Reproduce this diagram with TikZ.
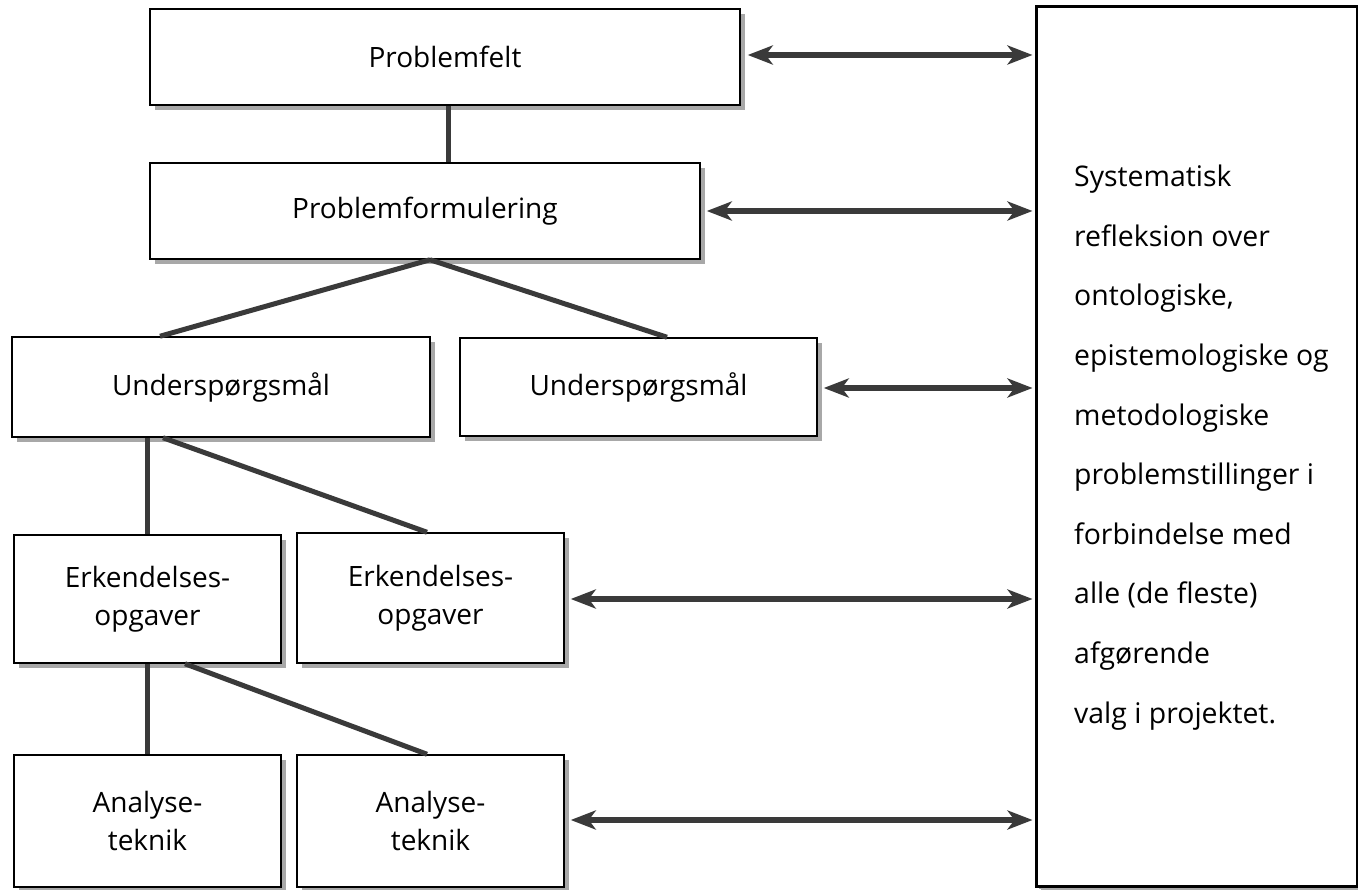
\documentclass[tikz,border=0pt]{standalone}
\usepackage{fontspec}
\setmainfont{Open Sans}
\usetikzlibrary{arrows.meta,shadows,calc}
\definecolor{linegray}{HTML}{3A3A3A}
\definecolor{shadegray}{HTML}{A8A8A8}
\begin{document}
\begin{tikzpicture}[x=1pt,y=-1pt,
  box/.style={draw=black, line width=1.5pt, fill=white, rectangle, inner sep=0pt,
    align=center, font=\fontsize{28}{38.5}\selectfont,
    drop shadow={shadow xshift=5pt, shadow yshift=-5pt, fill=shadegray, opacity=1}},
  conn/.style={draw=linegray, line width=5pt},
  tip/.tip={Stealth[length=25pt,width=19pt,inset=7pt]},
  arr/.style={draw=linegray, line width=5.5pt, tip-tip}]
\useasboundingbox[fill=white] (0,0) rectangle (1358,890);

\node[box, minimum width=590pt, minimum height=96pt] (pf) at (445,57) {Problemfelt};
\node[box, minimum width=550pt, minimum height=96pt] (pform) at (425,211) {Problemformulering};
\node[box, minimum width=418pt, minimum height=100pt] (u1) at (221,387) {Underspørgsmål};
\node[box, minimum width=357pt, minimum height=98pt] (u2) at (638.5,387) {Underspørgsmål};
\node[box, minimum width=267pt, minimum height=128pt] (e1) at (147.5,599) {Erkendelses-\\opgaver};
\node[box, minimum width=267pt, minimum height=130pt] (e2) at (430.5,598) {Erkendelses-\\opgaver};
\node[box, minimum width=267pt, minimum height=132pt] (a1) at (147.5,821) {Analyse-\\teknik};
\node[box, minimum width=267pt, minimum height=132pt] (a2) at (430.5,821) {Analyse-\\teknik};

\node[box, line width=3pt, minimum width=321pt, minimum height=879pt,
  drop shadow={shadow xshift=3pt, shadow yshift=-3pt, fill=shadegray, opacity=1}] (R) at (1196.5,446.5) {};
\node[anchor=base west, align=left, inner sep=0pt, font=\fontsize{28.4}{59.6}\selectfont] (T) at (1074,723)
  {Systematisk\\refleksion over\\ontologiske,\\epistemologiske og\\metodologiske\\problemstillinger i\\forbindelse med\\alle (de fleste)\\afgørende\\valg i projektet.};

% tree connectors
\draw[conn] ($(pf.south)+(3,0)$) -- ($(pform.north)+(23,0)$);
\draw[conn] ($(pform.south)+(5,0)$) -- ($(u1.north)+(-61,0)$);
\draw[conn] ($(pform.south)+(5,0)$) -- ($(u2.north)+(28.5,0)$);
\draw[conn] (e1.north |- u1.south) -- (e1.north);
\draw[conn] ($(u1.south)+(-58,0)$) -- ($(e2.north)+(-3.5,0)$);
\draw[conn] (e1.south) -- (a1.north);
\draw[conn] ($(e1.south)+(37.5,0)$) -- ($(a2.north)+(-3.5,0)$);

% double arrows to the reflection box
\draw[arr] ($(pf.east)+(7,-2)$) -- ($(pf.east -| R.west)+(-2,-2)$);
\draw[arr] ($(pform.east)+(6,0)$) -- ($(pform.east -| R.west)+(-2,0)$);
\draw[arr] ($(u2.east)+(6,1)$) -- ($(u2.east -| R.west)+(-2,1)$);
\draw[arr] ($(e2.east)+(6,1)$) -- ($(e2.east -| R.west)+(-2,1)$);
\draw[arr] ($(a2.east)+(6,-1)$) -- ($(a2.east -| R.west)+(-2,-1)$);
\end{tikzpicture}
\end{document}
